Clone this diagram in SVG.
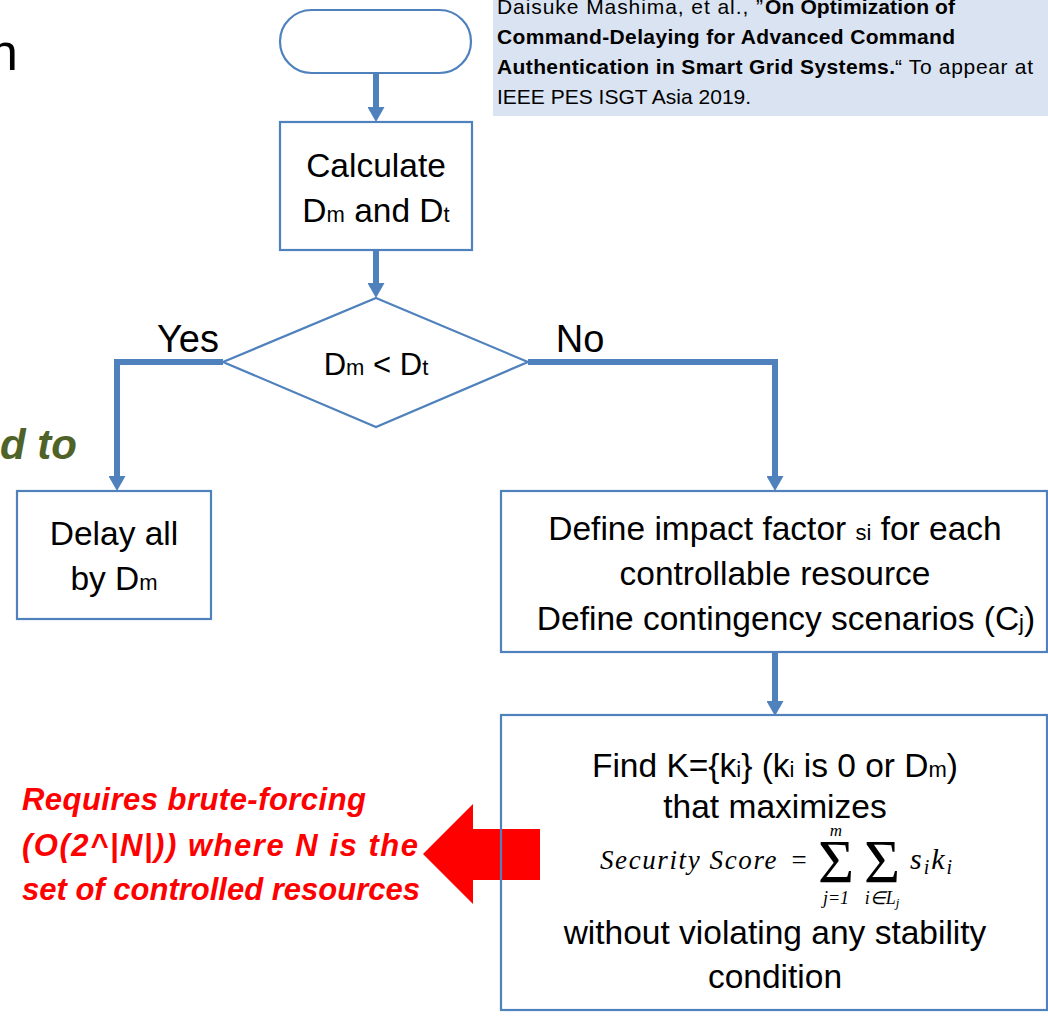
<svg xmlns="http://www.w3.org/2000/svg" width="1048" height="1016" viewBox="0 0 1048 1016">
  <style>
    .shape { fill: #ffffff; stroke: #4F81BD; stroke-width: 2.2; }
    .conn { fill: none; stroke: #4F81BD; stroke-width: 6; stroke-linejoin: miter; }
    .txt { font-family: "Liberation Sans", Arial, sans-serif; font-size: 33.5px; fill: #000000; text-anchor: middle; }
    .sub { font-size: 22px; }
    .lbl { font-family: "Liberation Sans", Arial, sans-serif; font-size: 38px; fill: #000000; text-anchor: middle; }
    .cite { font-family: "Liberation Sans", Arial, sans-serif; font-size: 21px; fill: #000000; }
    .b { font-weight: bold; }
    .note { font-family: "Liberation Sans", Arial, sans-serif; font-size: 31px; font-weight: bold; font-style: italic; fill: #FF0000; }
    .math { font-family: "Liberation Serif", "Times New Roman", serif; font-style: italic; fill: #000000; }
    .mathr { font-family: "Liberation Serif", "Times New Roman", serif; fill: #000000; }
  </style>
  <defs>
    <marker id="arrow" viewBox="0 0 15 17" refX="0" refY="8.5" markerWidth="15" markerHeight="17" markerUnits="userSpaceOnUse" orient="auto">
      <path d="M0,0 L15,8.5 L0,17 Z" fill="#4F81BD"/>
    </marker>
  </defs>

  <rect width="1048" height="1016" fill="#ffffff"/>

  <!-- clipped heading fragments at the left edge -->
  <text x="-11" y="70" font-family="'Liberation Sans', Arial, sans-serif" font-size="52" fill="#000000">n</text>
  <text x="77" y="459" font-family="'Liberation Sans', Arial, sans-serif" font-size="42" font-weight="bold" font-style="italic" fill="#4F6228" text-anchor="end">d to</text>

  <!-- reference box -->
  <g id="citation">
    <rect x="493" y="0" width="555" height="116" fill="#DAE3F1"/>
    <text class="cite" x="497" y="14" textLength="266" lengthAdjust="spacing">Daisuke Mashima, et al., ”</text>
    <text class="cite b" x="765" y="14" textLength="190" lengthAdjust="spacing">On Optimization of</text>
    <text class="cite b" x="497" y="44" textLength="458" lengthAdjust="spacing">Command-Delaying for Advanced Command</text>
    <text class="cite b" x="497" y="74" textLength="398" lengthAdjust="spacing">Authentication in Smart Grid Systems.</text>
    <text class="cite" x="895" y="74" textLength="138" lengthAdjust="spacing">“ To appear at</text>
    <text class="cite" x="497" y="104">IEEE PES ISGT Asia 2019.</text>
  </g>

  <!-- connectors -->
  <g id="connectors">
    <path class="conn" d="M376,73 V107" marker-end="url(#arrow)"/>
    <path class="conn" d="M376,250 V283" marker-end="url(#arrow)"/>
    <path class="conn" d="M223,362 H117 V476" marker-end="url(#arrow)"/>
    <path class="conn" d="M528,362 H775 V476" marker-end="url(#arrow)"/>
    <path class="conn" d="M775,652 V701" marker-end="url(#arrow)"/>
  </g>

  <g id="start">
    <rect class="shape" x="280" y="10" width="191" height="63" rx="31.5" ry="31.5"/>
  </g>

  <g id="calculate">
    <rect class="shape" x="280" y="122" width="192" height="128"/>
    <text class="txt" x="376" y="177">Calculate</text>
    <text class="txt" x="376" y="222">D<tspan class="sub">m</tspan> and D<tspan class="sub">t</tspan></text>
  </g>

  <g id="decision">
    <polygon class="shape" points="376,298 528,362 376,427 223,362"/>
    <text class="txt" x="376" y="375" style="font-size:31px">D<tspan class="sub">m</tspan> &lt; D<tspan class="sub">t</tspan></text>
  </g>

  <text class="lbl" x="188" y="352">Yes</text>
  <text class="lbl" x="580" y="352">No</text>

  <g id="delay-all">
    <rect class="shape" x="17" y="491" width="194" height="128"/>
    <text class="txt" x="114" y="545">Delay all</text>
    <text class="txt" x="114" y="590">by D<tspan class="sub">m</tspan></text>
  </g>

  <g id="define">
    <rect class="shape" x="501" y="491" width="546" height="161"/>
    <text class="txt" x="775" y="540">Define impact factor <tspan class="sub">si</tspan> for each</text>
    <text class="txt" x="775" y="585">controllable resource</text>
    <text class="txt" x="786" y="630">Define contingency scenarios (C<tspan class="sub">j</tspan>)</text>
  </g>

  <!-- callout arrow -->
  <g id="callout">
    <polygon points="423,854 473,804 473,829 540,829 540,880 473,880 473,904" fill="#FF0000"/>
    <text class="note" x="22" y="810" textLength="344" lengthAdjust="spacing">Requires brute-forcing</text>
    <text class="note" x="22" y="856" textLength="396" lengthAdjust="spacing">(O(2^|N|)) where N is the</text>
    <text class="note" x="22" y="900">set of controlled resources</text>
  </g>

  <g id="optimize">
    <rect class="shape" x="501" y="715" width="546" height="295" style="fill:none"/>
    <text class="txt" x="775" y="777">Find K={k<tspan class="sub">i</tspan>} (k<tspan class="sub">i</tspan> is 0 or D<tspan class="sub">m</tspan>)</text>
    <text class="txt" x="775" y="818">that maximizes</text>
    <!-- Security Score = sum_{j=1}^{m} sum_{i in L_j} s_i k_i -->
    <text class="math" x="600" y="869" font-size="27" letter-spacing="1.6">Security Score</text>
    <text class="mathr" x="799" y="869" font-size="27" text-anchor="middle">=</text>
    <text class="mathr" x="836" y="882" font-size="62" text-anchor="middle">Σ</text>
    <text class="mathr" x="882" y="882" font-size="62" text-anchor="middle">Σ</text>
    <text class="math" x="836" y="836" font-size="17" text-anchor="middle">m</text>
    <text class="math" x="836" y="904" font-size="18" text-anchor="middle">j<tspan class="mathr">=1</tspan></text>
    <text class="math" x="882" y="904" font-size="18" text-anchor="middle">i<tspan class="mathr">∈</tspan>L<tspan font-size="13" dy="3">j</tspan></text>
    <text class="math" x="910" y="869" font-size="30" letter-spacing="2">s<tspan font-size="20" dy="5">i</tspan><tspan dy="-5">k</tspan><tspan font-size="20" dy="5">i</tspan></text>
    <text class="txt" x="775" y="944">without violating any stability</text>
    <text class="txt" x="775" y="988">condition</text>
  </g>
</svg>
